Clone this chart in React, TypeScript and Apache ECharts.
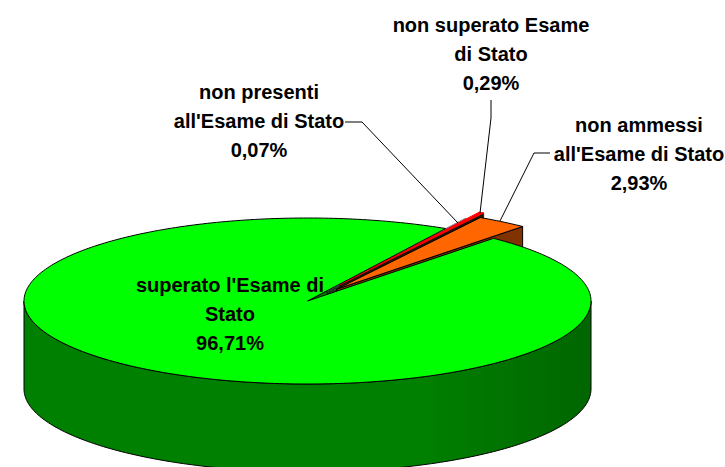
import React, { useEffect, useRef } from "react";
import * as echarts from "echarts";

const categories = [
  "superato l'Esame di\nStato",
  "non ammessi\nall'Esame di Stato",
  "non superato Esame\ndi Stato",
  "non presenti\nall'Esame di Stato",
];
const shares = [96.71, 2.93, 0.29, 0.07];
const shareLabels = ["96,71%", "2,93%", "0,29%", "0,07%"];

const topColors = ["#00ff00", "#ff6600", "#ff0000", "#8a94a8"];
const wallColors = ["#008000", "#803300", "#2a1000", "#1f3a1f"];
const explode = [0, 0.176, 0.23, 0.14];
const labelPos = [[230, 314], [639, 154], [491, 54], [259, 121]];
const leaders = [
  null,
  [[550, 153], [534, 153], [500, 221]],
  [[491, 100], [491, 118], [480, 213]],
  [[345, 122], [362, 122], [458, 223]],
];

const CX = 307.5, CY = 301, RX = 283.5, RY = 83, DEPTH = 88;
const total = shares.reduce((a, b) => a + b, 0);

// slices run counter-clockwise: orange from 49 deg, then red, grey, and green last.
const steps = [
  { slice: 0, part: "cut" },
  { slice: 3, part: "all" },
  { slice: 2, part: "all" },
  { slice: 1, part: "all" },
  { slice: 0, part: "body" },
];
const angles: Record<number, [number, number]> = {};
{
  let a = 49;
  [1, 2, 3, 0].forEach((i) => {
    const span = (shares[i] / total) * 360;
    angles[i] = [a, a + span];
    a += span;
  });
}

function renderItem(params: any) {
  const { slice: idx, part } = steps[params.dataIndex];
  const [a0, a1] = angles[idx];
  const mid = (((a0 + a1) / 2) * Math.PI) / 180;
  const ox = CX + explode[idx] * RX * Math.cos(mid);
  const oy = CY - explode[idx] * RY * Math.sin(mid);
  const pt = (deg: number, dy = 0) => {
    const r = (deg * Math.PI) / 180;
    return [ox + RX * Math.cos(r), oy - RY * Math.sin(r) + dy];
  };
  const arc = (from: number, to: number, dy = 0) => {
    const n = Math.max(2, Math.ceil(Math.abs(to - from)));
    const out: number[][] = [];
    for (let i = 0; i <= n; i++) out.push(pt(from + ((to - from) * i) / n, dy));
    return out;
  };
  const stroke = { stroke: "#000", lineWidth: idx > 1 ? 0.6 : 1, lineJoin: "round" };
  const children: any[] = [];
  const face = (points: number[][], fill: any, edge: any = stroke) =>
    children.push({ type: "polygon", shape: { points }, style: { fill, ...edge } });

  if (part !== "body") {
    // the radial cut face turned towards the viewer
    face([[ox, oy], pt(a0), pt(a0, DEPTH), [ox, oy + DEPTH]], wallColors[idx]);
  }
  if (part !== "cut") {
    // outer wall, front half only
    for (const k of [0, 360]) {
      const from = Math.max(a0, 180 + k);
      const to = Math.min(a1, 360 + k);
      if (from < to) {
        face(
          [...arc(from, to), ...arc(to, from, DEPTH)],
          idx === 0
            ? new echarts.graphic.LinearGradient(0, 0, 1, 0, [
                { offset: 0, color: "#008000" },
                { offset: 0.7, color: "#008000" },
                { offset: 1, color: "#006600" },
              ])
            : wallColors[idx],
        );
      }
    }
    // top face: the thin wedges take their own colour as outline so they stay visible
    face(
      [[ox, oy], ...arc(a0, a1)],
      topColors[idx],
      idx > 1 ? { stroke: topColors[idx], lineWidth: 1, lineJoin: "round" } : stroke,
    );
  }
  return { type: "group", children };
}

const textEls = categories.map((c, i) => ({
  type: "text",
  x: labelPos[i][0],
  y: labelPos[i][1],
  z: 100,
  style: {
    text: `${c}\n${shareLabels[i]}`,
    fontFamily: "Liberation Sans",
    fontWeight: "bold",
    fontSize: 20,
    lineHeight: 29,
    align: "center",
    verticalAlign: "middle",
    fill: "#000",
  },
}));
const lineEls = leaders
  .filter((l) => l)
  .map((l) => ({
    type: "polyline",
    z: 99,
    shape: { points: l },
    style: { stroke: "#000", lineWidth: 1, fill: "none" },
  }));

export default function App() {
  const ref = useRef<HTMLDivElement>(null);
  useEffect(() => {
    const chart = echarts.init(ref.current!, undefined, { renderer: "svg" });
    chart.setOption({
      animation: false,
      backgroundColor: "#fff",
      series: [
        {
          type: "custom",
          coordinateSystem: "none",
          silent: true,
          renderItem,
          data: steps.map((s) => shares[s.slice]),
        },
      ],
      graphic: { elements: [...lineEls, ...textEls] },
    });
    return () => chart.dispose();
  }, []);
  return (
    <div
      ref={ref}
      style={{ position: "absolute", left: 0, top: 0, width: 725, height: 467, overflow: "hidden" }}
    />
  );
}
